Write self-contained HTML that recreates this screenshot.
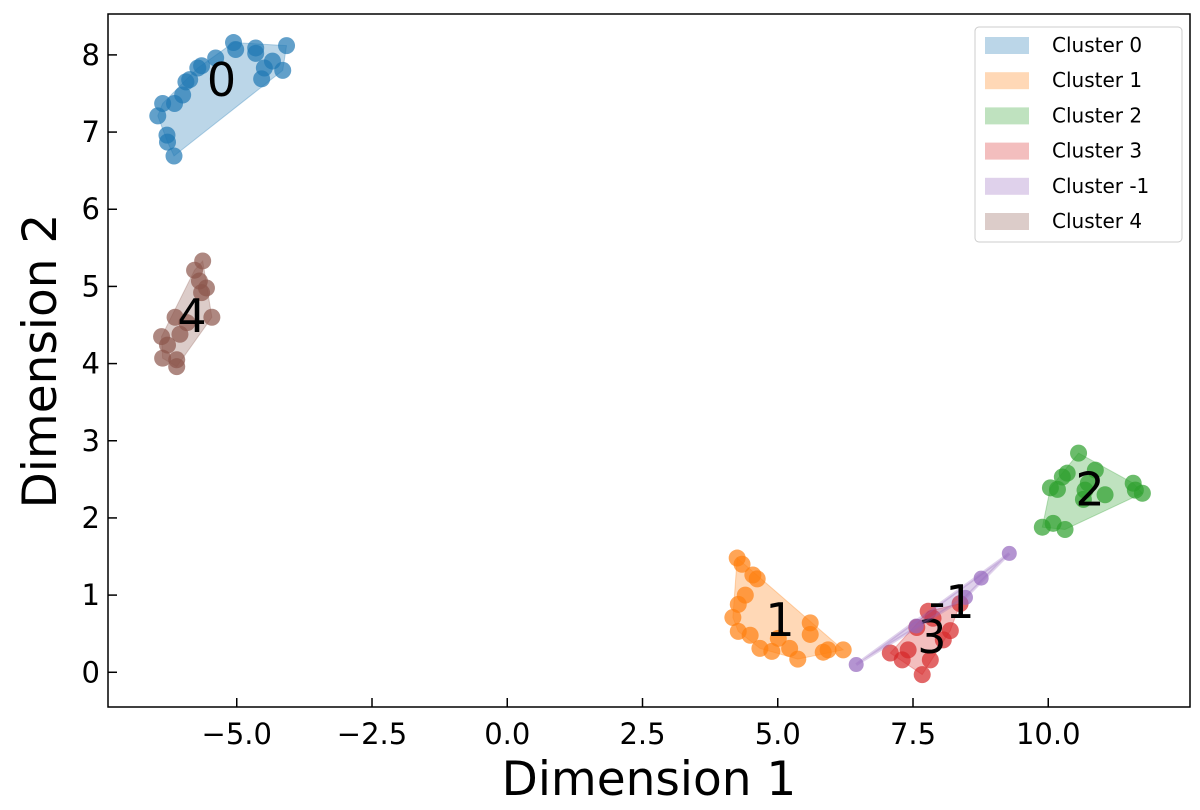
<!DOCTYPE html>
<html><head><meta charset="utf-8"><style>
body{margin:0;background:#fff;}
svg text{font-family:"DejaVu Sans","Liberation Sans",sans-serif;}
</style></head><body>
<svg id="chart" width="1200" height="805" xmlns="http://www.w3.org/2000/svg"></svg>
<script>
const clusterIds=["0","1","2","3","-1","4"];
const colors=["#1f77b4","#ff7f0e","#2ca02c","#d62728","#9467bd","#8c564b"];
const c0x=[-5.06,-5.02,-4.65,-4.65,-4.08,-4.34,-4.49,-4.15,-4.54,-5.39,-5.65,-5.72,-5.87,-6.00,-6.15,-6.37,-6.46,-6.29,-6.28,-6.16,-5.94];
const c0y=[8.16,8.07,8.09,8.02,8.12,7.92,7.83,7.80,7.69,7.96,7.86,7.83,7.68,7.48,7.37,7.37,7.21,6.96,6.87,6.69,7.65];
const c1x=[4.25,4.34,4.54,4.62,4.40,4.27,4.17,4.27,4.49,5.01,5.60,5.60,4.67,4.89,5.22,5.37,5.84,5.93,6.21];
const c1y=[1.48,1.40,1.26,1.21,1.00,0.88,0.71,0.53,0.48,0.44,0.64,0.49,0.31,0.27,0.31,0.17,0.26,0.29,0.29];
const c2x=[10.56,10.35,10.26,10.04,10.17,10.87,10.74,10.68,10.65,11.05,11.57,11.61,11.74,9.89,10.09,10.31];
const c2y=[2.84,2.58,2.53,2.39,2.37,2.62,2.45,2.36,2.24,2.30,2.45,2.36,2.32,1.88,1.93,1.85];
const c3x=[7.78,8.37,7.57,8.19,8.06,7.08,7.41,7.30,7.82,7.67,7.87];
const c3y=[0.79,0.89,0.58,0.54,0.42,0.25,0.29,0.16,0.16,-0.03,0.70];
const cnx=[6.45,7.56,8.47,8.76,9.28];
const cny=[0.10,0.60,0.97,1.22,1.54];
const c4x=[-5.63,-5.78,-5.69,-5.56,-5.65,-5.46,-6.14,-5.92,-6.05,-6.39,-6.28,-6.37,-6.11,-6.11];
const c4y=[5.33,5.21,5.07,4.98,4.92,4.60,4.60,4.53,4.38,4.35,4.24,4.07,4.05,3.96];
const xTicks=[-5.0,-2.5,0.0,2.5,5.0,7.5,10.0];
const yTicks=[0,1,2,3,4,5,6,7,8];
const X0=108,X1=1190,Y0=14,Y1=707;
const xmin=-7.38,xmax=12.62,ymin=-0.45,ymax=8.53;
const sx=v=>X0+(v-xmin)/(xmax-xmin)*(X1-X0);
const sy=v=>Y1-(v-ymin)/(ymax-ymin)*(Y1-Y0);
const svg=document.getElementById('chart');
const NS="http://www.w3.org/2000/svg";
function mk(t,a,p){const e=document.createElementNS(NS,t);for(const k in a)e.setAttribute(k,a[k]);(p||svg).appendChild(e);return e;}
function hull(pts){pts=pts.slice().sort((a,b)=>a[0]-b[0]||a[1]-b[1]);const cr=(o,a,b)=>(a[0]-o[0])*(b[1]-o[1])-(a[1]-o[1])*(b[0]-o[0]);const lo=[],up=[];for(const p of pts){while(lo.length>=2&&cr(lo[lo.length-2],lo[lo.length-1],p)<=0)lo.pop();lo.push(p);}for(let i=pts.length-1;i>=0;i--){const p=pts[i];while(up.length>=2&&cr(up[up.length-2],up[up.length-1],p)<=0)up.pop();up.push(p);}up.pop();lo.pop();return lo.concat(up);}
const data=[[c0x,c0y],[c1x,c1y],[c2x,c2y],[c3x,c3y],[cnx,cny],[c4x,c4y]];
data.forEach((d,i)=>{
 const g=mk('g',{});
 
 
 const pts=d[0].map((x,j)=>[sx(x),sy(d[1][j])]);
 const h=hull(pts);
 const poly=mk('polygon',{points:h.map(p=>p.join(',')).join(' '),fill:colors[i],'fill-opacity':0.3,stroke:colors[i],'stroke-opacity':0.3,'stroke-width':i==4?3:1},g);
 
 
 pts.forEach(p=>{const c=mk('circle',{cx:p[0],cy:p[1],r:i==4?7.5:8.5,fill:colors[i],'fill-opacity':0.7},g);
 
 });
 const mx=pts.reduce((s,p)=>s+p[0],0)/pts.length,my=pts.reduce((s,p)=>s+p[1],0)/pts.length;
 const t=mk('text',{x:mx+6,y:my+14,'font-size':46,'text-anchor':'middle',fill:'#000'},g);t.textContent=clusterIds[i];
 
 
});
const frame=mk('rect',{x:X0,y:Y0,width:X1-X0,height:Y1-Y0,fill:'none',stroke:'#000','stroke-width':1.5});


xTicks.forEach(v=>{const x=sx(v);mk('line',{x1:x,x2:x,y1:Y1,y2:Y1-9,stroke:'#000','stroke-width':1.5});
 const t=mk('text',{x:x,y:Y1+37,'font-size':29,'text-anchor':'middle'});t.textContent=(v<0?'\u2212':'')+Math.abs(v).toFixed(1);
 
 });
yTicks.forEach(v=>{const y=sy(v);mk('line',{x1:X0,x2:X0+9,y1:y,y2:y,stroke:'#000','stroke-width':1.5});
 const t=mk('text',{x:X0-8,y:y+10,'font-size':29,'text-anchor':'end'});t.textContent=v;
 
 });
const xt=mk('text',{x:649,y:795,'font-size':47,'text-anchor':'middle'});xt.textContent='Dimension 1';


const yt=mk('text',{x:0,y:0,'font-size':47,'text-anchor':'middle',transform:'translate(56,361) rotate(-90)'});yt.textContent='Dimension 2';


const lg=mk('g',{});


mk('rect',{x:975,y:27,width:207,height:215,rx:4,fill:'#fff','fill-opacity':0.8,stroke:'#ccc'},lg);
clusterIds.forEach((id,i)=>{const y=45+i*35.2;
 const r=mk('rect',{x:985,y:y-8,width:44,height:17,fill:colors[i],'fill-opacity':0.3},lg);
 
 
 const t=mk('text',{x:1052,y:y+7,'font-size':20},lg);t.textContent='Cluster '+id;
 
 });
</script>
</body></html>
